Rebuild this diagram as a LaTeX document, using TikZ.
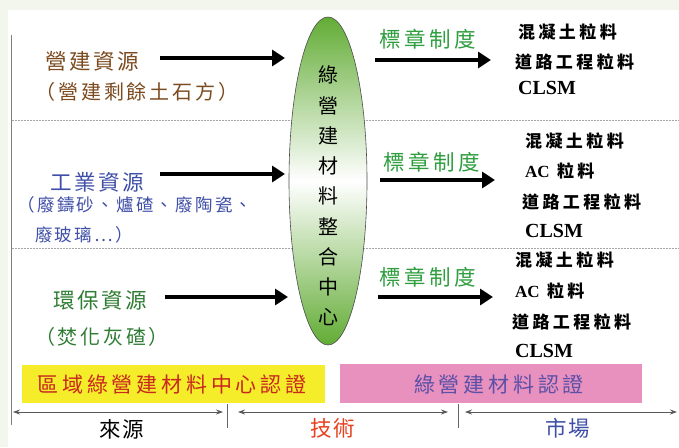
\documentclass[tikz,border=0pt]{standalone}
\usepackage{fontspec}
\setmainfont{Liberation Serif}
\newfontfamily\cjk{Noto Sans CJK TC}
\usetikzlibrary{arrows.meta,shapes.geometric}
\definecolor{bgc}{HTML}{F3F6EC}
\definecolor{brownc}{HTML}{7B4A1E}
\definecolor{bluec}{HTML}{3F4FA8}
\definecolor{greenc}{HTML}{2E7D32}
\definecolor{stampg}{HTML}{2F9E3F}
\definecolor{hubg}{HTML}{62AC35}
\definecolor{yelbox}{HTML}{F5EC2A}
\definecolor{pinkbox}{HTML}{E890BE}
\definecolor{redtxt}{HTML}{C8281E}
\definecolor{purtxt}{HTML}{5A50A8}
\definecolor{orangered}{HTML}{E8401C}
\tikzset{
  lefthead/.style={font=\cjk\fontsize{21.5}{21.5}\selectfont\addfontfeature{LetterSpace=12}},
  leftsub/.style={font=\cjk\fontsize{20}{20}\selectfont\addfontfeature{LetterSpace=14}},
  leftsmall/.style={font=\cjk\fontsize{17.5}{17.5}\selectfont\addfontfeature{LetterSpace=13}},
  stamp/.style={font=\cjk\fontsize{21.5}{21.5}\selectfont\addfontfeature{LetterSpace=16}, text=stampg},
  item/.style={font=\cjk\bfseries\fontsize{17}{17}\selectfont\addfontfeature{LetterSpace=20}, anchor=west, inner sep=0pt},
  latin/.style={font=\bfseries\fontsize{20}{20}\selectfont, anchor=west, inner sep=0pt},
  bigarrow/.style={line width=4.5pt, -{Triangle[length=13pt,width=16pt]}},
  dimarrow/.style={line width=0.8pt, draw=black!65, {Stealth[length=7pt,width=5pt]}-{Stealth[length=7pt,width=5pt]}},
  sepline/.style={draw=black!35, line width=0.8pt, dash pattern=on 2pt off 1pt},
  tick/.style={draw=black!60, line width=0.8pt},
  boxtext/.style={font=\cjk\fontsize{21}{21}\selectfont\addfontfeature{LetterSpace=18}},
  foot/.style={font=\cjk\fontsize{21.5}{21.5}\selectfont\addfontfeature{LetterSpace=8}}
}
\begin{document}
\begin{tikzpicture}[x=1pt,y=-1pt]
\fill[bgc] (0,0) rectangle (679,447);
\fill[white] (8,10) rectangle (679,447);
\useasboundingbox (0,0) rectangle (679,447);

% left vertical line and separators
\coordinate (vtop) at (11,35);
\coordinate (vbot) at (11,425);
\draw[draw=black!50, line width=0.8pt] (vtop) -- (vbot);
\coordinate (s1a) at (12,120); \coordinate (s1b) at (679,120);
\coordinate (s2a) at (12,248); \coordinate (s2b) at (679,248);
\draw[sepline] (s1a) -- (s1b);
\draw[sepline] (s2a) -- (s2b);

% hub ellipse
\node[ellipse, minimum width=78pt, minimum height=328pt, inner sep=0pt,
      draw=black!70, line width=0.6pt,
      top color=hubg, bottom color=hubg, middle color=white] (hub) at (328,181) {};
\node[font=\cjk\fontsize{20}{30.25}\selectfont, align=center, inner sep=0pt] (hubtext) at (328,196)
  {綠\\營\\建\\材\\料\\整\\合\\中\\心};

% left sources
\node[lefthead, text=brownc] (src1) at (92,61) {營建資源};
\node[leftsub, text=brownc] (src1s) at (137,92) {（營建剩餘土石方）};
\node[lefthead, text=bluec] (src2) at (97,182) {工業資源};
\node[leftsmall, text=bluec] (src2s) at (135,205) {（廢鑄砂、爐碴、廢陶瓷、};
\node[leftsmall, text=bluec] (src2t) at (84,235) {廢玻璃…）};
\node[lefthead, text=greenc] (src3) at (100,300) {環保資源};
\node[leftsub, text=greenc] (src3s) at (102,337) {（焚化灰碴）};

\coordinate (a1s) at (160,58);  \coordinate (a1e) at (285,58);
\coordinate (a2s) at (160,174); \coordinate (a2e) at (285,174);
\coordinate (a3s) at (165,297); \coordinate (a3e) at (288,297);
\draw[bigarrow] (a1s) -- (a1e);
\draw[bigarrow] (a2s) -- (a2e);
\draw[bigarrow] (a3s) -- (a3e);

% right side
\node[stamp] (st1) at (428,39) {標章制度};
\node[stamp] (st2) at (432,162) {標章制度};
\node[stamp] (st3) at (428,277) {標章制度};
\coordinate (b1s) at (375,60);  \coordinate (b1e) at (491,60);
\coordinate (b2s) at (380,180); \coordinate (b2e) at (495,180);
\coordinate (b3s) at (378,297); \coordinate (b3e) at (493,297);
\draw[bigarrow] (b1s) -- (b1e);
\draw[bigarrow] (b2s) -- (b2e);
\draw[bigarrow] (b3s) -- (b3e);

\node[item] (m11) at (518,32) {混凝土粒料};
\node[item] (m12) at (515,62) {道路工程粒料};
\node[latin] (m13) at (518,88) {CLSM};

\node[item] (m21) at (525,141) {混凝土粒料};
\node[item] (m22) at (525,171) {\textbf{\fontspec{Liberation Serif}AC} 粒料};
\node[item] (m23) at (522,202) {道路工程粒料};
\node[latin] (m24) at (525,231) {CLSM};

\node[item] (m31) at (515,260) {混凝土粒料};
\node[item] (m32) at (515,291) {\textbf{\fontspec{Liberation Serif}AC} 粒料};
\node[item] (m33) at (512,322) {道路工程粒料};
\node[latin] (m34) at (515,351) {CLSM};

% bottom boxes
\fill[yelbox] (22,365) rectangle (325,403);
\node[boxtext, text=redtxt] (cert1) at (172,384) {區域綠營建材料中心認證};
\fill[pinkbox] (340,364) rectangle (642,403);
\node[boxtext, text=purtxt] (cert2) at (499,384) {綠營建材料認證};

% dimension arrows
\coordinate (d1s) at (13,412);  \coordinate (d1e) at (223,412);
\coordinate (d2s) at (238,412); \coordinate (d2e) at (448,412);
\coordinate (d3s) at (465,412); \coordinate (d3e) at (677,412);
\draw[dimarrow] (d1s) -- (d1e);
\draw[dimarrow] (d2s) -- (d2e);
\draw[dimarrow] (d3s) -- (d3e);
\coordinate (t1a) at (227,404); \coordinate (t1b) at (227,428);
\coordinate (t2a) at (458,404); \coordinate (t2b) at (458,428);
\draw[tick] (t1a) -- (t1b);
\draw[tick] (t2a) -- (t2b);

\node[foot, text=black] (f1) at (122,429) {來源};
\node[foot, text=orangered] (f2) at (333,428) {技術};
\node[foot, text=bluec] (f3) at (568,428) {市場};
\end{tikzpicture}
\end{document}
